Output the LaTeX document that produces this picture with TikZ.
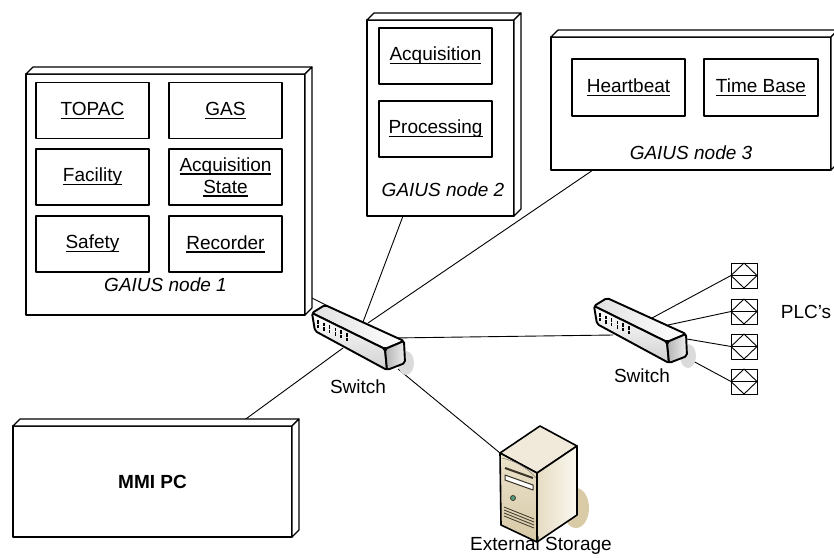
\documentclass[tikz,border=0pt]{standalone}
\usepackage{fontspec}
\setmainfont{Liberation Sans}
\usetikzlibrary{calc,fit,backgrounds}
\definecolor{srvtop}{HTML}{F1EADB}
\definecolor{srvfrontA}{HTML}{ECE3CC}
\definecolor{srvfrontB}{HTML}{D6C9A6}
\definecolor{srvsideA}{HTML}{E6DCC3}
\definecolor{srvsideB}{HTML}{FBF8F1}
\definecolor{srvshadow}{HTML}{D8CBA5}
\definecolor{srvdark}{HTML}{3A3326}
\definecolor{srvgreen}{HTML}{4F9E7F}
\newcommand\ulx[1]{\setbox0=\hbox{#1}\rlap{\rule[-3.4pt]{\wd0}{1.1pt}}\box0}
\newcommand\tdbox[5]{%
  \node[faceframe, fit={(#2,#3) (#4,#5)}] (#1) {};
  \draw[faceframe] (#1.north west) -- ($(#1.north west)+(7,-7)$) -- ($(#1.north east)+(7,-7)$) -- (#1.north east) -- cycle;
  \draw[faceframe] (#1.north east) -- ($(#1.north east)+(7,-7)$) -- ($(#1.south east)+(7,-7)$) -- (#1.south east) -- cycle;
}
\tikzset{
  every node/.style={font=\fontsize{19pt}{22pt}\selectfont},
  faceframe/.style={draw, fill=white, line width=1.1pt, inner sep=0pt, outer sep=0pt, line join=round},
  compbox/.style={draw, line width=1.3pt, minimum width=113pt, minimum height=56pt, inner sep=0pt, align=center},
  lab/.style={font=\fontsize{19pt}{22pt}\selectfont\itshape},
  conn/.style={line width=0.9pt},
  swl/.style={draw, line width=1.9pt, line join=round},
  sv/.style={draw, line width=1.6pt, line join=round},
  plcbox/.style={draw, line width=0.9pt, minimum width=26pt, minimum height=25pt, inner sep=0pt, outer sep=0pt},
  switch/.pic={
    \fill[black!14] (94,50) ellipse (8 and 12);
    \path[swl, left color=black!12, right color=white, rounded corners=2pt] (0,0) -- (13,-8) -- (92,28) -- (73,36) -- cycle;
    \path[swl, top color=white, bottom color=black!18, rounded corners=2pt] (0,0) -- (73,36) -- (75,57) -- (3,18) -- cycle;
    \path[swl, left color=black!30, right color=black!6, rounded corners=2pt] (73,36) -- (92,28) -- (93,50) -- (75,57) -- cycle;
    \foreach \k in {0,...,5}{
      \draw[line width=1.5pt, dash pattern=on 3.5pt off 1pt] ($(6,7)+(\k*5.8,\k*2.6)$) -- ++(0,8);
    }
    \coordinate (-tl) at (16,-7);
    \coordinate (-t2) at (51,9);
    \coordinate (-t3) at (56,10);
    \coordinate (-m) at (31,35);
    \coordinate (-r) at (80,25);
    \coordinate (-s) at (86,56);
    \coordinate (-l) at (19,29);
    \coordinate (-p1) at (58,12);
    \coordinate (-p2) at (74,19);
    \coordinate (-p3) at (93,33);
    \coordinate (-p4) at (97,54);
  }
}
\begin{document}
\begin{tikzpicture}[x=1pt,y=-1pt,line join=round]
\useasboundingbox (0,0) rectangle (834,557);

% 3D node boxes
\tdbox{n1}{26}{74}{305}{315}
\tdbox{n2}{367}{20}{514}{216}
\tdbox{n3}{551}{37}{831}{170}
\tdbox{mmi}{13}{426}{292}{537}

% components
\node[compbox] (topac) at (92.5,110.5) {\ulx{TOPAC}};
\node[compbox] (gas) at (225.5,110.5) {\ulx{GAS}};
\node[compbox] (facility) at (92.5,177) {\ulx{Facility}};
\node[compbox] (acqstate) at (225.5,177) {\ulx{Acquisition}\\\ulx{State}};
\node[compbox] (safety) at (92.5,244) {\ulx{Safety}};
\node[compbox] (recorder) at (225.5,244) {\ulx{Recorder}};
\node[compbox] (acq) at (435.5,56) {\ulx{Acquisition}};
\node[compbox] (proc) at (435.5,129) {\ulx{Processing}};
\node[compbox, minimum height=57pt] (heart) at (628.5,87.5) {\ulx{Heartbeat}};
\node[compbox, minimum height=57pt, minimum width=114pt] (tbase) at (761,87.5) {\ulx{Time Base}};

% labels
\node[lab] (n1lab) at (165.5,285) {GAIUS node 1};
\node[lab] (n2lab) at (443,190) {GAIUS node 2};
\node[lab] (n3lab) at (691,153) {GAIUS node 3};
\node[font=\fontsize{19pt}{22pt}\selectfont\bfseries] (mmilab) at (152.5,482) {MMI PC};

% switches
\pic (sw1) at (312,313) {switch};
\pic (sw2) at (594,306) {switch};
\node (sw1lab) at (358,387) {Switch};
\node (sw2lab) at (642,376) {Switch};

% server
\coordinate (srv) at (500,453);
\fill[srvshadow] (576,508) ellipse (13 and 20);
\path[sv, fill=srvtop] (srv) -- (540,426) -- (577,446) -- (537,473) -- cycle;
\path[sv, left color=srvsideA, right color=srvsideB] (537,473) -- (577,446) -- (577,515) -- (537,542) -- cycle;
\path[sv, top color=srvfrontA, bottom color=srvfrontB] (srv) -- (537,473) -- (537,542) -- (501,525) -- cycle;
\draw[srvdark!60, line width=0.6pt] (502,458) .. controls (515,461) and (528,468) .. (536,478);
\draw[srvdark, line width=2pt] (505,468) -- (533,478);
\draw[srvdark, line width=1pt, fill=white] (505,475) -- (533,485) -- (533,490) -- (505,480) -- cycle;
\draw[srvdark, line width=0.8pt, fill=srvgreen] (513,498) circle (2.5);
\foreach \v in {0,3,6,9}{
  \draw[srvdark, line width=0.8pt] (504,507+\v) -- (534,519+\v);
}
\node (srvlab) at (541,546) {External Storage};

% PLCs
\foreach \i/\y in {1/275.5,2/311.5,3/346.5,4/381.5}{
  \node[plcbox] (plc\i) at (744,\y) {};
  \draw[line width=0.9pt] (plc\i.west) -- (plc\i.north) -- (plc\i.east) -- (plc\i.south) -- cycle
                          (plc\i.west) -- (plc\i.east);
}
\node (plclab) at (806,312) {PLC’s};

% connectors
\begin{scope}[on background layer]
\fill[white] (0,0) rectangle (834,557);
\draw[conn] ($(n1.south east)+(7,-17)$) -- (sw1-tl);
\draw[conn] ($(n2.south west)!0.245!(n2.south east)$) -- (sw1-t2);
\draw[conn] ($(n3.south west)!0.15!(n3.south east)$) -- (sw1-t3);
\draw[conn] ($(mmi.north west)!0.8!(mmi.north east)$) -- (sw1-m);
\draw[conn] (sw1-r) -- (sw2-l);
\draw[conn] (sw1-s) -- (srv);
\foreach \i in {1,...,4}{
  \draw[conn] (sw2-p\i) -- (plc\i.west);
}
\end{scope}
\end{tikzpicture}
\end{document}
